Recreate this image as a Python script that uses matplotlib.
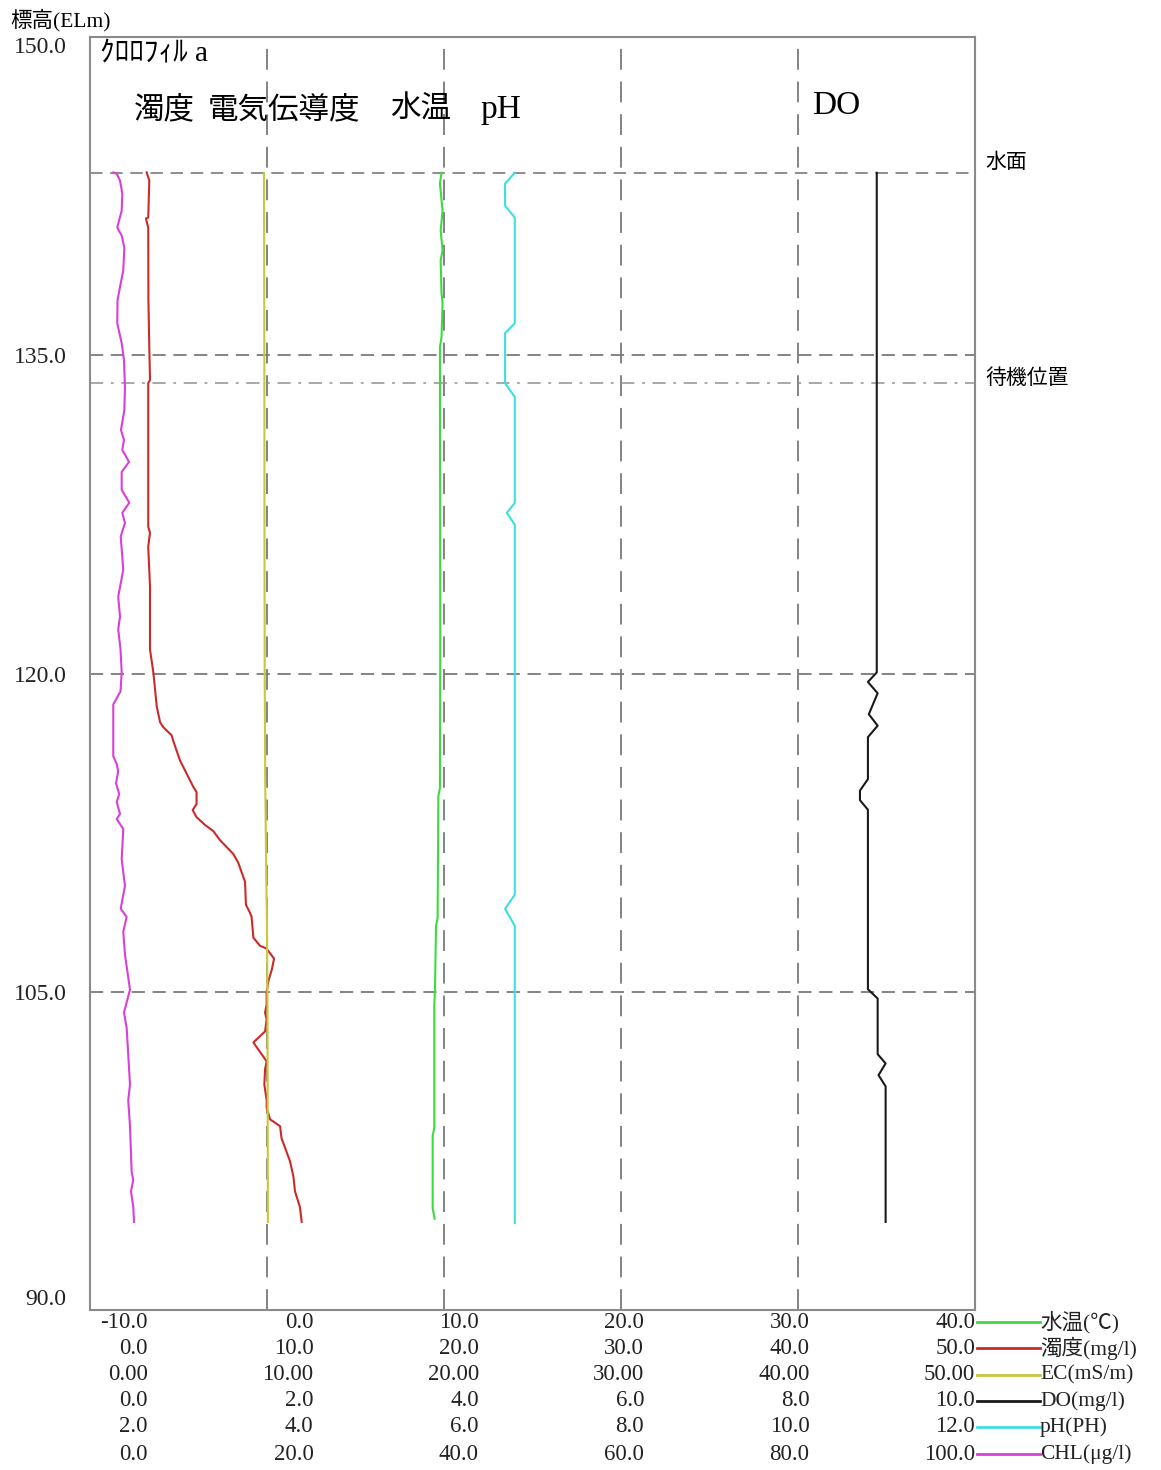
import numpy as np
import matplotlib.pyplot as plt
from matplotlib.lines import Line2D

plt.rcParams['font.family'] = ['Liberation Serif', 'Noto Sans CJK JP']
plt.rcParams['lines.scale_dashes'] = False

# 標高 (ELm)
surface = 143.6
standby_top = 135.0
standby_low = 133.7
y_ticks = [150.0, 135.0, 120.0, 105.0, 90.0]
grid_y = [135.0, 120.0, 105.0]

# 水温 (℃)
temp_el = [143.6, 143.09, 141.82, 140.88, 139.94, 139.47, 137.92, 137.45, 135.85, 135.38,
           121.6, 114.6, 114.22, 108.49, 108.11, 105.05, 104.35, 98.57, 98.21, 94.8, 94.3]
temp = [9.86, 9.77, 9.92, 9.81, 9.92, 9.81, 9.86, 9.92, 9.86, 9.77,
        9.79, 9.77, 9.68, 9.64, 9.55, 9.49, 9.45, 9.45, 9.36, 9.36, 9.47]

# 濁度 (mg/l)
turb_el = [143.62, 143.23, 141.49, 141.44, 141.02, 137.59, 135.38, 133.83, 133.69, 126.92,
           126.63, 125.98, 124.1, 121.13, 120.05, 118.45, 117.7, 117.47, 117.09, 116.81,
           115.91, 114.65, 114.41, 113.85, 113.56, 113.23, 112.86, 112.58, 112.15, 111.49,
           111.07, 110.18, 109.1, 108.72, 108.53, 107.55, 107.17, 107.03, 106.56, 106.04,
           105.48, 104.96, 104.4, 104.02, 103.69, 103.13, 102.61, 101.72, 101.34, 100.63,
           99.88, 99.55, 98.99, 98.66, 98.1, 97.01, 96.31, 95.6, 94.85, 94.15]
turb = [3.20, 3.35, 3.29, 3.16, 3.29, 3.30, 3.35, 3.39, 3.29, 3.29,
        3.39, 3.29, 3.39, 3.39, 3.58, 3.77, 3.96, 4.14, 4.61, 4.71,
        5.08, 5.84, 6.02, 6.02, 5.80, 6.02, 6.50, 6.96, 7.34, 8.10,
        8.38, 8.76, 8.81, 9.04, 9.13, 9.23, 9.60, 9.98, 10.40, 10.27,
        10.07, 9.98, 9.98, 9.89, 9.98, 9.89, 9.23, 9.98, 9.89, 9.85,
        9.98, 9.98, 10.17, 10.74, 10.82, 11.30, 11.49, 11.58, 11.86, 11.96]

# EC (mS/m)
ec_el = [143.6, 135.0, 125.0, 120.0, 115.0, 111.0, 108.0, 104.0, 94.15]
ec = [9.83, 9.85, 9.86, 9.87, 9.90, 9.95, 10.0, 10.03, 10.05]

# DO (mg/l)
do_el = [143.6, 120.05, 119.6, 119.07, 118.08, 117.54, 117.0, 115.02, 114.48, 114.03,
         113.58, 105.12, 104.68, 102.06, 101.62, 101.07, 100.54, 94.15]
do = [8.89, 8.89, 8.79, 8.90, 8.80, 8.90, 8.79, 8.79, 8.70, 8.70,
      8.79, 8.79, 8.90, 8.90, 8.99, 8.91, 8.99, 8.99]

# pH
ph_el = [143.6, 143.09, 142.05, 141.49, 136.51, 136.04, 133.69, 133.03, 128.04, 127.57,
         127.01, 109.57, 108.91, 108.11, 94.1]
ph = [6.80, 6.69, 6.69, 6.80, 6.80, 6.69, 6.69, 6.80, 6.80, 6.71,
      6.80, 6.80, 6.69, 6.80, 6.80]

# クロロフィルa CHL (μg/l)
chl_el = [143.62, 143.55, 143.23, 142.62, 141.82, 141.02, 140.64, 140.08, 139.0, 138.39,
          137.59, 136.51, 135.57, 134.77, 133.5, 132.42, 131.48, 131.01, 130.54, 129.97,
          129.5, 128.66, 128.05, 127.57, 127.1, 126.45, 124.89, 123.62, 122.68, 122.08,
          121.13, 120.05, 119.16, 118.54, 116.1, 115.73, 115.4, 114.83, 114.32, 113.94,
          113.38, 113.14, 112.67, 111.26, 109.99, 108.91, 108.53, 107.83, 106.75, 105.1,
          104.02, 103.31, 100.63, 99.88, 98.66, 96.5, 96.12, 95.6, 94.85, 94.15]
chl = [2.63, 3.02, 3.39, 3.65, 3.58, 3.08, 3.58, 3.88, 3.76, 3.47,
       3.11, 3.08, 3.58, 3.84, 3.95, 3.88, 3.50, 3.84, 3.65, 4.41,
       3.58, 3.58, 4.44, 3.65, 3.95, 3.47, 3.76, 3.19, 3.39, 3.19,
       3.45, 3.58, 3.45, 2.63, 2.63, 3.02, 3.19, 2.94, 3.30, 3.02,
       3.39, 3.02, 3.76, 3.58, 3.95, 3.47, 4.14, 3.76, 3.95, 4.52,
       3.84, 4.14, 4.52, 4.32, 4.52, 4.71, 4.89, 4.63, 4.89, 4.97]

# 目盛ラベル (各項目)
temp_ticks = ['-10.0', '0.0', '10.0', '20.0', '30.0', '40.0']
turb_ticks = ['0.0', '10.0', '20.0', '30.0', '40.0', '50.0']
ec_ticks = ['0.00', '10.00', '20.00', '30.00', '40.00', '50.00']
do_ticks = ['0.0', '2.0', '4.0', '6.0', '8.0', '10.0']
ph_ticks = ['2.0', '4.0', '6.0', '8.0', '10.0', '12.0']
chl_ticks = ['0.0', '20.0', '40.0', '60.0', '80.0', '100.0']

legend_names = ['水温(℃)', '濁度(mg/l)', 'EC(mS/m)', 'DO(mg/l)', 'pH(PH)', 'CHL(μg/l)']

series = [
    (temp_el, temp, (-10, 40), '#3ddc3d', temp_ticks),
    (turb_el, turb, (0, 50), '#cc2a2a', turb_ticks),
    (ec_el, ec, (0, 50), '#c8c83c', ec_ticks),
    (do_el, do, (0, 10), '#1a1a1a', do_ticks),
    (ph_el, ph, (2, 12), '#40dede', ph_ticks),
    (chl_el, chl, (0, 100), '#d93fd9', chl_ticks),
]

W, H = 1161, 1470
fig = plt.figure(figsize=(W / 100, H / 100), dpi=100)
ax = fig.add_axes([90 / W, 1 - 1310 / H, 885 / W, 1273 / H])
ax.set_xlim(-10, 40)
ax.set_ylim(90, 150)
for s in ax.spines.values():
    s.set_color('#8a8a8a')
    s.set_linewidth(1.5)
ax.set_xticks([])
ax.set_yticks(y_ticks)
ax.set_yticklabels(['%.1f' % v for v in y_ticks], fontsize=17, color='#222222')
ax.tick_params(axis='y', length=0, pad=17)
ylabs = ax.get_yticklabels()
ylabs[0].set_va('top')
ylabs[-1].set_va('bottom')

grid_c = '#7a7a7a'
for xv in [0, 10, 20, 30]:
    ax.axvline(xv, color=grid_c, lw=1.3, dashes=(15, 8.5), zorder=1)
for yv in grid_y:
    ax.axhline(yv, color=grid_c, lw=1.3, dashes=(9.5, 5.5), zorder=1)
ax.axhline(surface, color=grid_c, lw=1.2, dashes=(9, 5.5), zorder=1)
ax.axhline(standby_low, color='#999999', lw=1.2, dashes=(9.5, 5.5, 2, 5.5), zorder=1)

for el, vals, lim, col, _ in series:
    a = ax.twiny()
    a.set_xlim(*lim)
    a.set_ylim(90, 150)
    a.set_axis_off()
    a.plot(vals, el, color=col, lw=1.5, zorder=3)

# 軸内の項目名
ax.text(0.011, 0.986, 'ｸﾛﾛﾌｨﾙ a', transform=ax.transAxes, fontsize=21, va='center', ha='left')
ax.text(0.049, 0.943, '濁度', transform=ax.transAxes, fontsize=22, va='center', ha='left',
        family=['Noto Sans CJK JP'])
ax.text(0.133, 0.943, '電気伝導度', transform=ax.transAxes, fontsize=22, va='center', ha='left',
        family=['Noto Sans CJK JP'])
ax.text(0.339, 0.943, '水温', transform=ax.transAxes, fontsize=22, va='center', ha='left',
        family=['Noto Sans CJK JP'])
ax.text(0.441, 0.943, 'pH', transform=ax.transAxes, fontsize=24, va='center', ha='left')
ax.text(0.816, 0.946, 'DO', transform=ax.transAxes, fontsize=24, va='center', ha='left')

# 右側のラベル
tr = ax.get_yaxis_transform()
ax.text(1.012, surface + 0.5, '水面', transform=tr, fontsize=15, va='center', ha='left',
        family=['Noto Sans CJK JP'])
ax.text(1.012, 133.95, '待機位置', transform=tr, fontsize=15, va='center', ha='left',
        family=['Noto Sans CJK JP'])

fig.text(10 / W, 1 - 20 / H, '標高(ELm)', fontsize=15.5, va='center', ha='left')

# 横軸目盛ラベルと凡例
row_y = [1322, 1348, 1375, 1401, 1427, 1454]
for r, (el, vals, lim, col, ticks) in enumerate(series):
    yf = 1 - row_y[r] / H
    for k, lab in enumerate(ticks):
        fig.text((148 + k * 165.4) / W, yf, lab, fontsize=16.5, ha='right', va='center',
                 color='#222222')
    fig.add_artist(Line2D([977 / W, 1040 / W], [yf, yf], color=col, lw=2))
    fig.text(1040 / W, yf, legend_names[r], fontsize=15.5, ha='left', va='center',
             color='#222222')

fig.savefig('out.png', dpi=100)
